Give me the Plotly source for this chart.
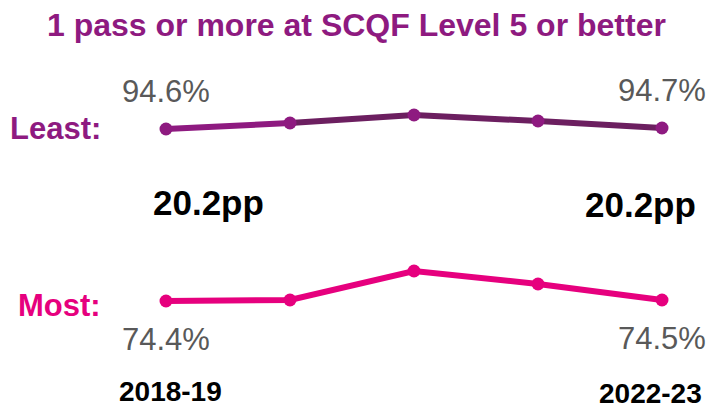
import plotly.graph_objects as go

# ---- data ----
years = ["2018-19", "2019-20", "2020-21", "2021-22", "2022-23"]
least = [94.6, 95.2, 96.0, 95.4, 94.7]
most = [74.4, 74.5, 77.4, 76.1, 74.5]
title_text = "1 pass or more at SCQF Level 5 or better"
series_labels = ["Least:", "Most:"]

OFF = 8  # page body margin
W, H = 724 - OFF, 408 - OFF
C_LEAST = "#8E1A80"
C_LEAST_DARK = "#6C1F60"
C_MOST = "#E6007E"
GRAY = "#595959"
FONT = "Liberation Sans, Arial, sans-serif"


def py(p):  # window pixel row -> paper y
    return 1 - (p - OFF) / H


def px(p):  # window pixel column -> paper x
    return (p - OFF) / W


fig = go.Figure()
# Least: first segment brighter, remaining segments darker
fig.add_trace(go.Scatter(x=years[:2], y=least[:2], mode="lines",
                         line=dict(color=C_LEAST, width=6), yaxis="y2",
                         hoverinfo="skip", showlegend=False))
fig.add_trace(go.Scatter(x=years[1:], y=least[1:], mode="lines",
                         line=dict(color=C_LEAST_DARK, width=6), yaxis="y2",
                         hoverinfo="skip", showlegend=False))
fig.add_trace(go.Scatter(x=years, y=least, mode="markers",
                         marker=dict(color=C_LEAST, size=13), yaxis="y2",
                         showlegend=False, cliponaxis=False))
fig.add_trace(go.Scatter(x=years, y=most, mode="lines+markers",
                         line=dict(color=C_MOST, width=6),
                         marker=dict(color=C_MOST, size=13),
                         showlegend=False, cliponaxis=False))

ann = []
# title
ann.append(dict(text=f"<b>{title_text}</b>", xref="paper", yref="paper",
                x=px(356), y=py(25), xanchor="center", yanchor="middle",
                showarrow=False, font=dict(size=32, color=C_LEAST, family=FONT)))
# series labels
ann.append(dict(text=f"<b>{series_labels[0]}</b>", xref="paper", yref="paper",
                x=px(103), y=py(128), xanchor="right", yanchor="middle",
                showarrow=False, font=dict(size=31, color=C_LEAST, family=FONT)))
ann.append(dict(text=f"<b>{series_labels[1]}</b>", xref="paper", yref="paper",
                x=px(103), y=py(305), xanchor="right", yanchor="middle",
                showarrow=False, font=dict(size=31, color=C_MOST, family=FONT)))
# value labels at first and last points
for i in (0, len(years) - 1):
    ann.append(dict(text=f"{least[i]:.1f}%", xref="x", yref="y2",
                    x=years[i], y=least[i], yshift=38, xanchor="center",
                    yanchor="middle", showarrow=False,
                    font=dict(size=31, color=GRAY, family=FONT)))
    ann.append(dict(text=f"{most[i]:.1f}%", xref="x", yref="y",
                    x=years[i], y=most[i], yshift=-38, xanchor="center",
                    yanchor="middle", showarrow=False,
                    font=dict(size=31, color=GRAY, family=FONT)))
# gap labels
gap_pos = [(208, 202), (640, 205)]
for (gx, gy), i in zip(gap_pos, (0, len(years) - 1)):
    ann.append(dict(text=f"<b>{least[i] - most[i]:.1f}pp</b>", xref="paper",
                    yref="paper", x=px(gx), y=py(gy), xanchor="center",
                    yanchor="middle", showarrow=False,
                    font=dict(size=35, color="black", family=FONT)))
# year labels
yr_pos = [(170, 391), (650, 393)]
for (yx, yy), i in zip(yr_pos, (0, len(years) - 1)):
    ann.append(dict(text=f"<b>{years[i]}</b>", xref="paper", yref="paper",
                    x=px(yx), y=py(yy), xanchor="center", yanchor="middle",
                    showarrow=False,
                    font=dict(size=28, color="black", family=FONT)))

# Least axis: window rows 60-160 px, 10 px per percentage point
# Most axis: window rows 240-340 px, same scale
fig.update_layout(
    width=W, height=H,
    margin=dict(l=0, r=0, t=0, b=0),
    paper_bgcolor="white", plot_bgcolor="white",
    font=dict(family=FONT),
    xaxis=dict(type="category", range=[-0.5, 4.5], domain=[px(104), 1],
               visible=False, fixedrange=True),
    yaxis=dict(domain=[py(340), py(240)],
               range=[most[0] - (340 - 301) / 10, most[0] + (301 - 240) / 10],
               visible=False, fixedrange=True),
    yaxis2=dict(domain=[py(160), py(60)],
                range=[least[0] - (160 - 129) / 10, least[0] + (129 - 60) / 10],
                visible=False, fixedrange=True),
    annotations=ann,
    showlegend=False,
)

fig.write_html("out.html")
